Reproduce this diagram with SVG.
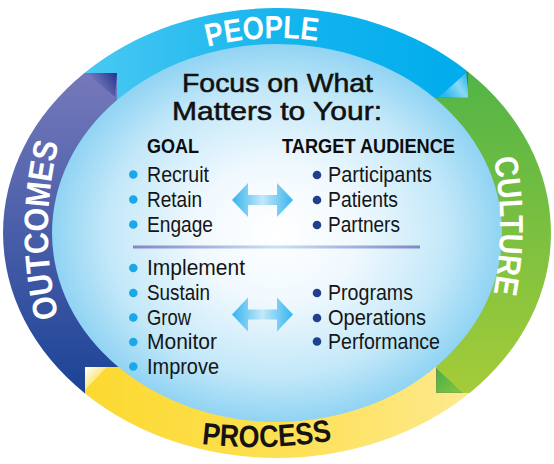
<svg xmlns="http://www.w3.org/2000/svg" width="554" height="464" viewBox="0 0 554 464">
<defs>
<style>
.band-label{font-family:"Liberation Sans",Arial,sans-serif;font-weight:700;fill:#ffffff}
.head{font-family:"Liberation Sans",Arial,sans-serif;font-size:26px;fill:#111111;stroke:#111111;stroke-width:0.55px;text-anchor:middle}
.col{font-family:"Liberation Sans",Arial,sans-serif;font-weight:700;font-size:21px;fill:#0d0d0d}
.item{font-family:"Liberation Sans",Arial,sans-serif;font-size:22px;fill:#151515}
.dl{fill:#1aa9e8}
.dr{fill:#213f8f}
</style>
<radialGradient id="disc" cx="0.5" cy="0.5" r="0.5">
<stop offset="0" stop-color="#ffffff"/>
<stop offset="0.35" stop-color="#f1f9fe"/>
<stop offset="0.75" stop-color="#c3e8f9"/>
<stop offset="1" stop-color="#8fd3f3"/>
</radialGradient>
<linearGradient id="gPeople" gradientUnits="userSpaceOnUse" x1="84" y1="0" x2="468" y2="0">
<stop offset="0" stop-color="#4ac9f3"/>
<stop offset="0.5" stop-color="#16b5ed"/>
<stop offset="1" stop-color="#00aced"/>
</linearGradient>
<linearGradient id="gCulture" gradientUnits="userSpaceOnUse" x1="0" y1="72" x2="0" y2="393">
<stop offset="0" stop-color="#52b447"/>
<stop offset="1" stop-color="#a5cc39"/>
</linearGradient>
<linearGradient id="gProcess" gradientUnits="userSpaceOnUse" x1="85" y1="0" x2="470" y2="0">
<stop offset="0" stop-color="#fcd930"/>
<stop offset="0.5" stop-color="#fde052"/>
<stop offset="1" stop-color="#fee98f"/>
</linearGradient>
<linearGradient id="gOutcomes" gradientUnits="userSpaceOnUse" x1="0" y1="73" x2="0" y2="393">
<stop offset="0" stop-color="#7679bb"/>
<stop offset="1" stop-color="#1c4396"/>
</linearGradient>
<linearGradient id="fUL" gradientUnits="userSpaceOnUse" x1="95" y1="88" x2="117" y2="73">
<stop offset="0" stop-color="#7a7dbf"/>
<stop offset="1" stop-color="#23338a"/>
</linearGradient>
<linearGradient id="fUR" gradientUnits="userSpaceOnUse" x1="445" y1="95" x2="468" y2="80">
<stop offset="0" stop-color="#2ab7ee"/>
<stop offset="0.6" stop-color="#8ad9f6"/>
<stop offset="1" stop-color="#39bdef"/>
</linearGradient>
<linearGradient id="fBR" gradientUnits="userSpaceOnUse" x1="437" y1="370" x2="455" y2="392">
<stop offset="0" stop-color="#4cae49"/>
<stop offset="1" stop-color="#7dc142"/>
</linearGradient>
<linearGradient id="fBL" gradientUnits="userSpaceOnUse" x1="86" y1="368" x2="100" y2="382">
<stop offset="0" stop-color="#fffef5"/>
<stop offset="1" stop-color="#fbe061"/>
</linearGradient>
<linearGradient id="gArrow" gradientUnits="objectBoundingBox" x1="0" y1="0" x2="1" y2="0">
<stop offset="0" stop-color="#36b4ed"/>
<stop offset="0.5" stop-color="#c2e8fa"/>
<stop offset="1" stop-color="#36b4ed"/>
</linearGradient>
<linearGradient id="gRule" gradientUnits="objectBoundingBox" x1="0" y1="0" x2="1" y2="0">
<stop offset="0" stop-color="#8485c4"/>
<stop offset="0.5" stop-color="#c8e2f7"/>
<stop offset="1" stop-color="#8485c4"/>
</linearGradient>
<path id="pPeople" d="M 44,233 A 233 195 0 0 1 510,233"/>
<path id="pCulture" d="M 451.8,46 A 360 360 0 0 1 451.8,406"/>
<path id="pOutcomes" d="M 96.2,410 A 360 360 0 0 1 96.2,50"/>
<path id="pProcess" d="M 101,420 A 450 450 0 0 0 409,420"/>
<polygon id="dblArrow" points="232,200 248,183 248,195 277,195 277,183 293,200 277,217 277,205 248,205 248,217"/>
</defs>

<g id="center-disc">
<ellipse cx="277" cy="233" rx="226" ry="190" fill="url(#disc)"/>
</g>

<g id="band-people">
<path d="M 84.4,73 A 274 225 0 0 1 468,71.7 L 468,98 L 434.5,98 A 225 189 0 0 0 117,100.1 L 117,73 Z" fill="url(#gPeople)"/>
<polygon points="438,98 467,72 469,98" fill="url(#fUR)"/>
<polyline points="467,72 469.5,98.5 438,98.5" fill="none" stroke="#3c7f3a" stroke-width="1.4"/>
<text class="band-label" font-size="32"><textPath href="#pPeople" startOffset="322" text-anchor="middle" textLength="111" lengthAdjust="spacingAndGlyphs">PEOPLE</textPath></text>
</g>

<g id="band-culture">
<path d="M 468,71.7 A 274 225 0 0 1 469.6,393 L 436,393 L 436,366.7 A 225 189 0 0 0 434.5,98 L 468,98 Z" fill="url(#gCulture)"/>
<polygon points="436,368 436,393 463,393" fill="url(#fBR)"/>
<polyline points="436,368 435.5,393.5 463,393.5" fill="none" stroke="#8b7c57" stroke-width="1.4"/>
<text class="band-label" font-size="33"><textPath href="#pCulture" startOffset="50%" text-anchor="middle" textLength="136" lengthAdjust="spacingAndGlyphs">CULTURE</textPath></text>
</g>

<g id="band-process">
<path d="M 469.6,393 A 274 225 0 0 1 85,393.5 L 85,367 L 118.4,367 A 225 189 0 0 0 436,366.7 L 436,393 Z" fill="url(#gProcess)"/>
<polygon points="85,367 107,367 85,390" fill="url(#fBL)"/>
<text class="band-label" font-size="31" style="fill:#141414"><textPath href="#pProcess" startOffset="169" text-anchor="middle" textLength="131" lengthAdjust="spacingAndGlyphs">PROCESS</textPath></text>
</g>

<g id="band-outcomes">
<path d="M 85,393.5 A 274 225 0 0 1 84.4,73 L 117,73 L 117,100.1 A 225 189 0 0 0 118.4,367 L 85,367 Z" fill="url(#gOutcomes)"/>
<polygon points="86,73 117,73 115,97" fill="url(#fUL)"/>
<text class="band-label" font-size="34"><textPath href="#pOutcomes" startOffset="50%" text-anchor="middle" textLength="176" lengthAdjust="spacingAndGlyphs">OUTCOMES</textPath></text>
</g>

<g id="title">
<text class="head" x="277.5" y="92" textLength="191" lengthAdjust="spacingAndGlyphs">Focus on What</text>
<text class="head" x="277" y="120" textLength="210" lengthAdjust="spacingAndGlyphs">Matters to Your:</text>
</g>

<g id="goal-list">
<text class="col" x="147" y="153" textLength="52" lengthAdjust="spacingAndGlyphs">GOAL</text>
<circle class="dl" cx="133.3" cy="174.5" r="4.3"/>
<circle class="dl" cx="133.3" cy="199.5" r="4.3"/>
<circle class="dl" cx="133.3" cy="224.5" r="4.3"/>
<text class="item" x="147" y="182" textLength="62" lengthAdjust="spacingAndGlyphs">Recruit</text>
<text class="item" x="147" y="207" textLength="55" lengthAdjust="spacingAndGlyphs">Retain</text>
<text class="item" x="147" y="232" textLength="66" lengthAdjust="spacingAndGlyphs">Engage</text>
</g>

<g id="audience-list">
<text class="col" x="282" y="153" textLength="173" lengthAdjust="spacingAndGlyphs">TARGET AUDIENCE</text>
<circle class="dr" cx="317" cy="175" r="4.3"/>
<circle class="dr" cx="317" cy="200" r="4.3"/>
<circle class="dr" cx="317" cy="225" r="4.3"/>
<text class="item" x="328" y="182" textLength="104" lengthAdjust="spacingAndGlyphs">Participants</text>
<text class="item" x="328" y="207" textLength="70" lengthAdjust="spacingAndGlyphs">Patients</text>
<text class="item" x="328" y="232" textLength="72" lengthAdjust="spacingAndGlyphs">Partners</text>
</g>

<g id="divider">
<rect x="133" y="245.5" width="287" height="3" fill="url(#gRule)"/>
</g>

<g id="action-list">
<circle class="dl" cx="133.3" cy="268" r="4.3"/>
<circle class="dl" cx="133.3" cy="293" r="4.3"/>
<circle class="dl" cx="133.3" cy="317.5" r="4.3"/>
<circle class="dl" cx="133.3" cy="342" r="4.3"/>
<circle class="dl" cx="133.3" cy="366.5" r="4.3"/>
<text class="item" x="147" y="275" textLength="98" lengthAdjust="spacingAndGlyphs">Implement</text>
<text class="item" x="147" y="300" textLength="63" lengthAdjust="spacingAndGlyphs">Sustain</text>
<text class="item" x="147" y="324.5" textLength="44" lengthAdjust="spacingAndGlyphs">Grow</text>
<text class="item" x="147" y="349" textLength="70" lengthAdjust="spacingAndGlyphs">Monitor</text>
<text class="item" x="147" y="373.5" textLength="72" lengthAdjust="spacingAndGlyphs">Improve</text>
</g>

<g id="scope-list">
<circle class="dr" cx="317" cy="293" r="4.3"/>
<circle class="dr" cx="317" cy="318" r="4.3"/>
<circle class="dr" cx="317" cy="341.5" r="4.3"/>
<text class="item" x="328" y="300" textLength="85" lengthAdjust="spacingAndGlyphs">Programs</text>
<text class="item" x="328" y="325" textLength="98" lengthAdjust="spacingAndGlyphs">Operations</text>
<text class="item" x="328" y="348.5" textLength="112" lengthAdjust="spacingAndGlyphs">Performance</text>
</g>

<g id="connectors">
<use href="#dblArrow" fill="url(#gArrow)"/>
<use href="#dblArrow" fill="url(#gArrow)" transform="translate(0,114.5)"/>
</g>
</svg>
